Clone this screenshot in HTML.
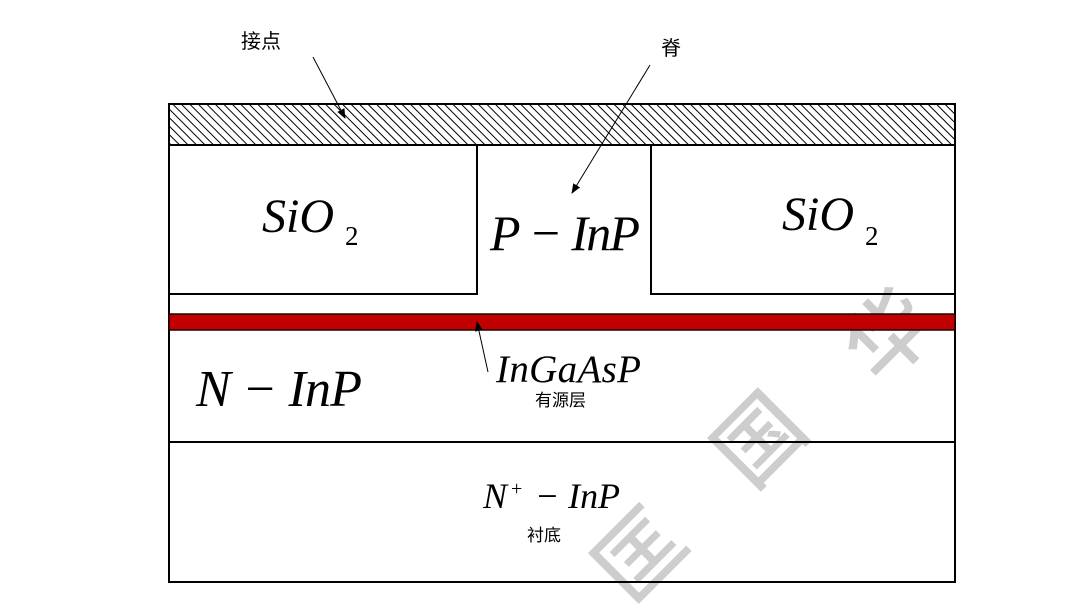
<!DOCTYPE html>
<html><head><meta charset="utf-8"><style>
html,body{margin:0;padding:0;background:#fff;}
svg{display:block;}
.m{font-family:"Liberation Serif",serif;font-style:italic;}
.c{font-family:"Liberation Sans","Noto Sans CJK SC",sans-serif;}
</style></head><body>
<svg width="1080" height="608" viewBox="0 0 1080 608" xmlns="http://www.w3.org/2000/svg">
<defs>
<pattern id="h" patternUnits="userSpaceOnUse" width="6" height="6" patternTransform="rotate(-45)">
<rect width="6" height="6" fill="#fff"/>
<line x1="0" y1="0" x2="0" y2="6" stroke="#000" stroke-width="2"/>
</pattern>
<marker id="a" markerWidth="10" markerHeight="10" refX="9" refY="5" orient="auto" markerUnits="userSpaceOnUse">
<path d="M0,1 L10,5 L0,9 z" fill="#000"/>
</marker>
</defs>
<g fill="#cdcdcd" class="c" font-size="86" font-weight="500">
<text x="640" y="585" transform="rotate(-45 640 555)" text-anchor="middle">匡</text>
<text x="760" y="470" transform="rotate(-45 760 440)" text-anchor="middle">国</text>
<text x="890" y="365" transform="rotate(-45 890 335)" text-anchor="middle">华</text>
</g>
<rect x="169" y="104" width="786" height="478" fill="none" stroke="#000" stroke-width="2"/>
<rect x="169" y="104" width="786" height="41" fill="url(#h)" stroke="#000" stroke-width="2"/>
<rect x="169" y="145" width="308" height="149" fill="none" stroke="#000" stroke-width="2"/>
<rect x="651" y="145" width="304" height="149" fill="none" stroke="#000" stroke-width="2"/>
<rect x="169" y="314" width="786" height="16" fill="#c00000" stroke="#200" stroke-width="1.5"/>
<line x1="169" y1="442" x2="955" y2="442" stroke="#000" stroke-width="2"/>
<line x1="313" y1="57" x2="345" y2="118" stroke="#000" stroke-width="1" marker-end="url(#a)"/>
<line x1="650" y1="65" x2="572" y2="193" stroke="#000" stroke-width="1" marker-end="url(#a)"/>
<line x1="488" y1="372" x2="477" y2="322" stroke="#000" stroke-width="1" marker-end="url(#a)"/>
<text class="c" x="241" y="48" font-size="20">接点</text>
<text class="c" x="661" y="55" font-size="20">脊</text>
<text class="m" x="262" y="232" font-size="48">SiO</text>
<text x="345" y="245" font-size="27" font-family="Liberation Serif,serif">2</text>
<text class="m" x="782" y="230" font-size="48">SiO</text>
<text x="865" y="245" font-size="27" font-family="Liberation Serif,serif">2</text>
<text class="m" x="490" y="250" font-size="50" textLength="150">P − InP</text>
<text class="m" x="196" y="406" font-size="52" textLength="166">N − InP</text>
<text class="m" x="496" y="382" font-size="39" textLength="145">InGaAsP</text>
<text class="c" x="535" y="406" font-size="17">有源层</text>
<text class="m" x="483" y="508" font-size="36">N</text>
<text x="511" y="495" font-size="20" font-family="Liberation Serif,serif">+</text>
<text class="m" x="535" y="508" font-size="36" textLength="85">− InP</text>
<text class="c" x="527" y="541" font-size="17">衬底</text>
</svg>
</body></html>
